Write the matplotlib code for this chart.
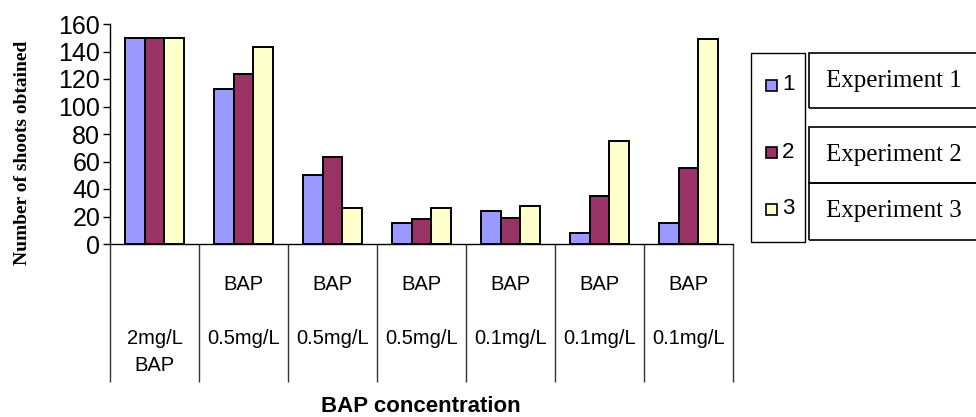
import matplotlib
matplotlib.use("Agg")
import numpy as np
import matplotlib.pyplot as plt
from matplotlib.patches import Rectangle

# data
categories = ["\n\n2mg/L\nBAP", "BAP\n\n0.5mg/L\n", "BAP\n\n0.5mg/L\n", "BAP\n\n0.5mg/L\n",
              "BAP\n\n0.1mg/L\n", "BAP\n\n0.1mg/L\n", "BAP\n\n0.1mg/L\n"]
series_names = ["1", "2", "3"]
experiment_labels = ["Experiment 1", "Experiment 2", "Experiment 3"]
exp1 = [150, 113, 50, 15, 24, 8, 15]
exp2 = [150, 124, 63, 18, 19, 35, 55]
exp3 = [150, 143, 26, 26, 28, 75, 149]
yticks = [0, 20, 40, 60, 80, 100, 120, 140, 160]

colors = ["#9999ff", "#993366", "#ffffcc"]

W, H = 976, 417
fig = plt.figure(figsize=(W / 100, H / 100), dpi=100)
ax = fig.add_axes([110 / W, (H - 244) / H, (733 - 110) / W, 220 / H])

x = np.arange(len(categories))
bw = 0.222
for i, vals in enumerate([exp1, exp2, exp3]):
    ax.bar(x + (i - 1) * bw, vals, bw, color=colors[i], edgecolor="black",
           linewidth=1.4, label=series_names[i], zorder=3)

ax.set_xlim(-0.5, len(categories) - 0.5)
ax.set_ylim(0, 160)
ax.set_yticks(yticks)
ax.tick_params(axis="y", labelsize=18, length=5, width=1, pad=2)
for lab in ax.get_yticklabels():
    lab.set_fontfamily("Liberation Sans")

# category separators extend down like table cells
ax.set_xticks(np.arange(-0.5, len(categories), 1))
ax.set_xticklabels([])
ax.tick_params(axis="x", length=138 * 0.72, width=1, color="#333333")
for xi, lab in zip(x, categories):
    ax.text(xi, -0.143, lab, transform=ax.get_xaxis_transform(), ha="center", va="top",
            fontsize=14.5, family="Liberation Sans", linespacing=1.53)

for s in ["top", "right"]:
    ax.spines[s].set_visible(False)
ax.spines["left"].set_linewidth(1)
ax.spines["bottom"].set_linewidth(1)

fig.text(23 / W, 1 - 153 / H, "Number of shoots obtained", rotation=90, ha="center",
         va="center", fontsize=14, fontweight="bold", family="Liberation Serif")
fig.text(421 / W, 1 - 406 / H, "BAP concentration", ha="center", va="center",
         fontsize=16, fontweight="bold", family="Liberation Sans")

# legend frame with numbered series
fig.patches.append(Rectangle((751 / W, 1 - 242 / H), (805 - 751) / W, (242 - 53) / H,
                             transform=fig.transFigure, fill=False,
                             edgecolor="black", linewidth=1))
for i, yc in enumerate([85, 152, 209]):
    fig.patches.append(Rectangle((766 / W, 1 - (yc + 6) / H), 11 / W, 11 / H,
                                 transform=fig.transFigure, facecolor=colors[i],
                                 edgecolor="black", linewidth=1.2))
    fig.text(782 / W, 1 - yc / H, series_names[i], ha="left", va="center",
             fontsize=16, family="Liberation Sans")

# experiment text boxes next to legend
boxes = [(53, 108), (127, 183), (183, 240)]
for (top, bot), lab in zip(boxes, experiment_labels):
    fig.patches.append(Rectangle((809 / W, 1 - bot / H), (980 - 809) / W, (bot - top) / H,
                                 transform=fig.transFigure, fill=False,
                                 edgecolor="black", linewidth=1.2))
    fig.text(826 / W, 1 - (top + bot) / 2 / H, lab, ha="left", va="center",
             fontsize=18, family="Liberation Serif")

fig.savefig("out.png", dpi=100)
